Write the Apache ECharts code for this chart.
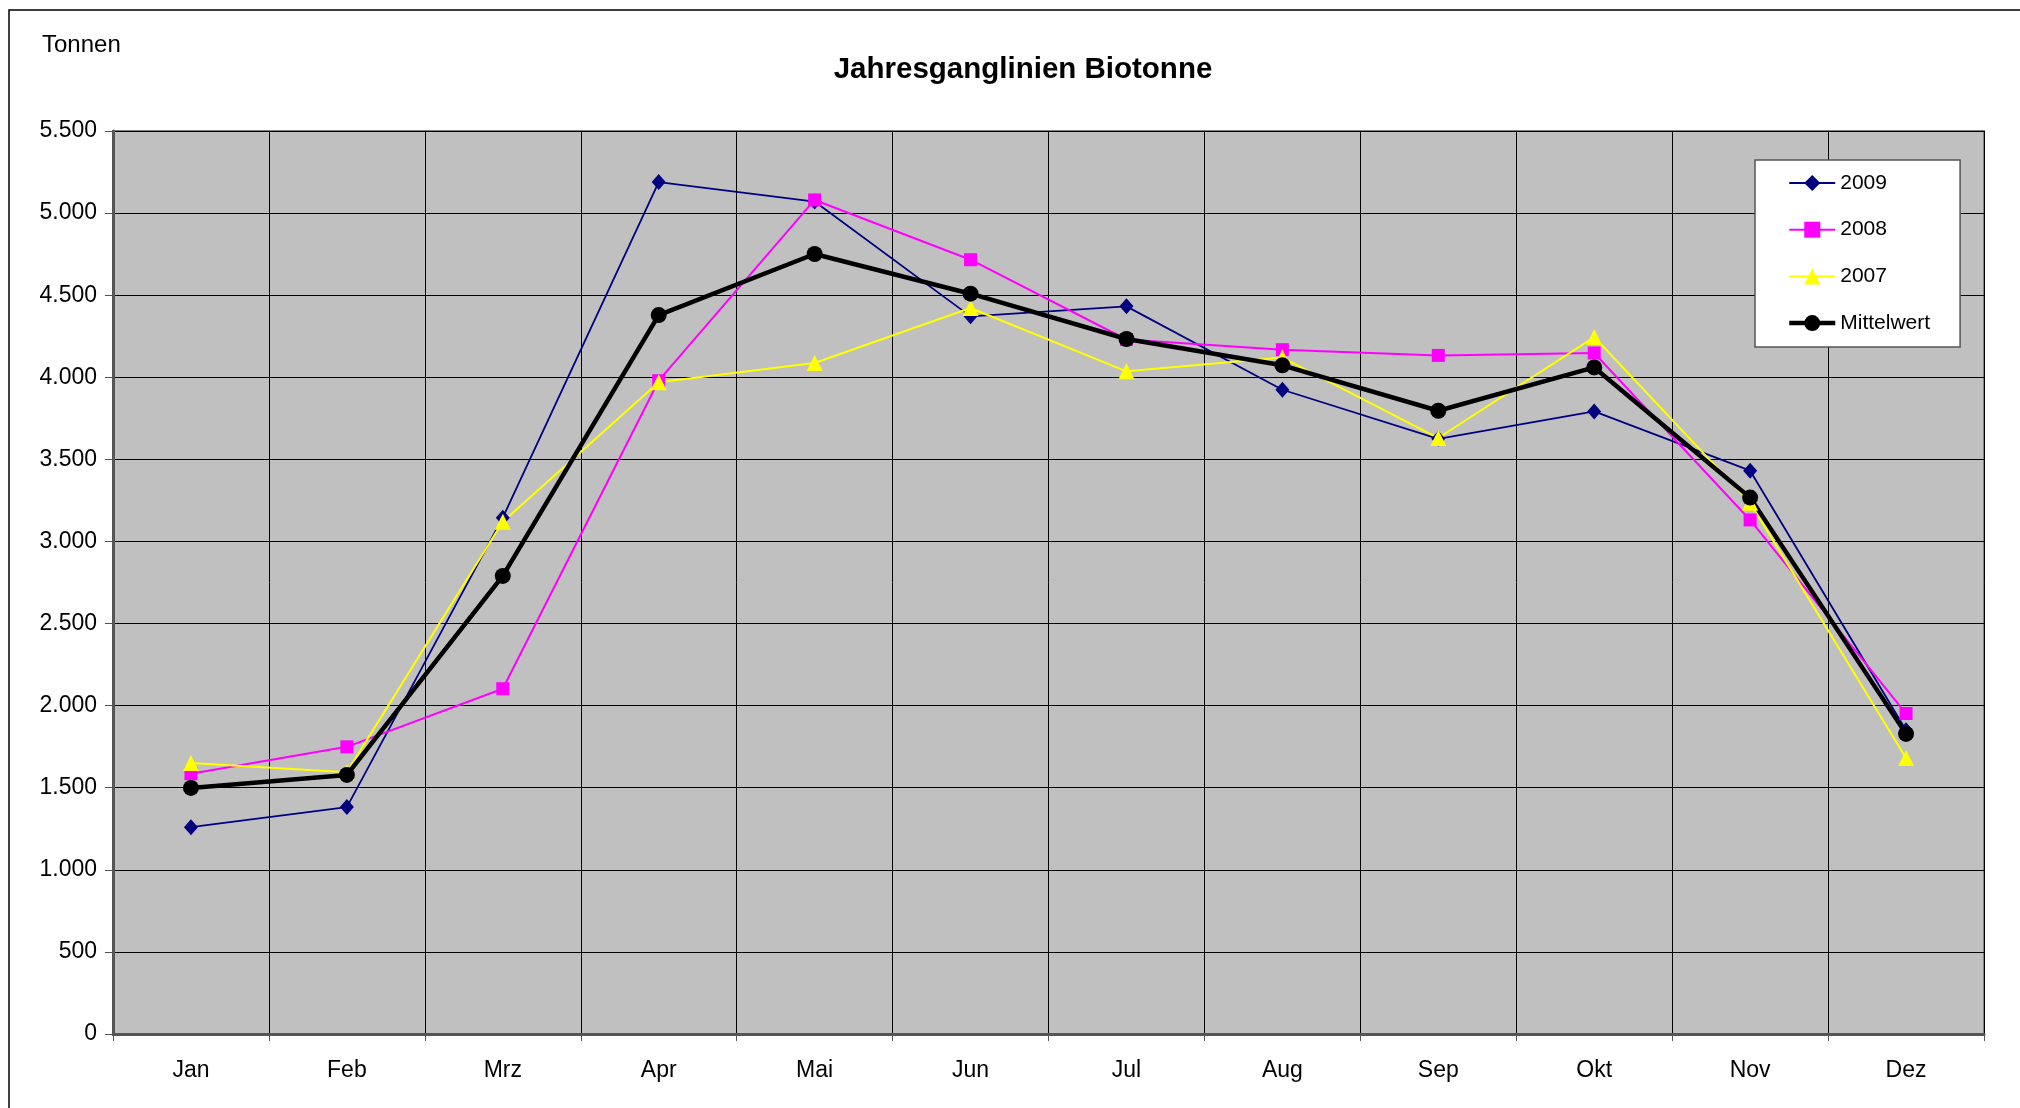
<!DOCTYPE html>
<html>
<head>
<meta charset="utf-8">
<script src="https://cdn.jsdelivr.net/npm/echarts@6/dist/echarts.min.js"></script>
<style>
  html, body { margin: 0; padding: 0; background: #fff; }
  #chart { width: 2020px; height: 1108px; }
</style>
</head>
<body>
<div id="chart"></div>
<script>
// Monate
const months = ['Jan', 'Feb', 'Mrz', 'Apr', 'Mai', 'Jun', 'Jul', 'Aug', 'Sep', 'Okt', 'Nov', 'Dez'];

// Tonnen je Monat
const y2009 = [1260, 1382, 3145, 5189, 5070, 4371, 4432, 3924, 3625, 3792, 3431, 1850];
const y2008 = [1585, 1749, 2103, 3979, 5080, 4716, 4230, 4168, 4133, 4148, 3131, 1952];
const y2007 = [1650, 1595, 3120, 3970, 4087, 4422, 4036, 4120, 3630, 4245, 3235, 1681];
const mittelwert = [1499, 1578, 2790, 4379, 4751, 4509, 4233, 4073, 3796, 4060, 3267, 1828];

const FONT = '"Liberation Sans", Arial, sans-serif';

// Tausenderpunkt wie im Original (5.500)
const fmt = v => String(v).replace(/\B(?=(\d{3})+(?!\d))/g, '.');

const chart = echarts.init(document.getElementById('chart'));

const line = (name, data, color, symbol, size, width) => ({
  name,
  type: 'line',
  data,
  symbol,
  symbolSize: size,
  lineStyle: { color, width },
  itemStyle: { color },
  emphasis: { disabled: true },
});

chart.setOption({
  animation: false,
  backgroundColor: '#fff',
  textStyle: { fontFamily: FONT },
  title: {
    text: 'Jahresganglinien Biotonne',
    left: 1018,
    top: 50,
    textAlign: 'center',
    textStyle: { fontFamily: FONT, fontSize: 29.5, fontWeight: 'bold', color: '#000' },
  },
  graphic: [
    {
      type: 'rect',
      shape: { x: 9, y: 10, width: 2100, height: 1200 },
      style: { fill: 'none', stroke: '#000', lineWidth: 1.5 },
      silent: true,
    },
    {
      type: 'text',
      left: 42,
      top: 33,
      style: { text: 'Tonnen', font: '24px ' + FONT, fill: '#000' },
    },
  ],
  legend: {
    orient: 'vertical',
    left: 1755,
    top: 160,
    width: 150,
    padding: [12, 30, 13, 32],
    itemWidth: 46,
    itemHeight: 20,
    itemGap: 24.7,
    backgroundColor: '#fff',
    borderColor: '#555',
    borderWidth: 1.5,
    borderRadius: 0,
    textStyle: { fontFamily: FONT, fontSize: 21, color: '#000', lineHeight: 22 },
    data: [
      { name: '2009', lineStyle: { width: 2 } },
      { name: '2008', lineStyle: { width: 2 } },
      { name: '2007', lineStyle: { width: 2 } },
      { name: 'Mittelwert', lineStyle: { width: 4.5 } },
    ],
  },
  grid: {
    left: 113,
    top: 131,
    right: 36,
    bottom: 74,
    show: true,
    backgroundColor: '#C0C0C0',
    borderColor: '#808080',
    borderWidth: 2,
  },
  xAxis: {
    type: 'category',
    data: months,
    boundaryGap: true,
    axisLine: { lineStyle: { color: '#555', width: 3 } },
    axisTick: { show: true, length: 7, lineStyle: { color: '#555', width: 1 } },
    axisLabel: { fontFamily: FONT, fontSize: 23, color: '#000', margin: 25 },
    splitLine: { show: true, interval: 0, lineStyle: { color: '#000', width: 1 } },
  },
  yAxis: {
    type: 'value',
    min: 0,
    max: 5500,
    interval: 500,
    axisLine: { show: true, lineStyle: { color: '#555', width: 3 } },
    axisTick: { show: true, length: 8, lineStyle: { color: '#555', width: 1 } },
    axisLabel: {
      fontFamily: FONT, fontSize: 23, color: '#000', margin: 16,
      padding: [4, 0, 0, 0], formatter: fmt,
    },
    splitLine: { show: true, lineStyle: { color: '#000', width: 1 } },
  },
  series: [
    line('2009', y2009, '#000080', 'diamond', [14, 16], 1.8),
    line('2008', y2008, '#FF00FF', 'rect', 13, 2),
    line('2007', y2007, '#FFFF00', 'triangle', 16, 2),
    line('Mittelwert', mittelwert, '#000000', 'circle', 16, 4.5),
  ],
});
</script>
</body>
</html>
